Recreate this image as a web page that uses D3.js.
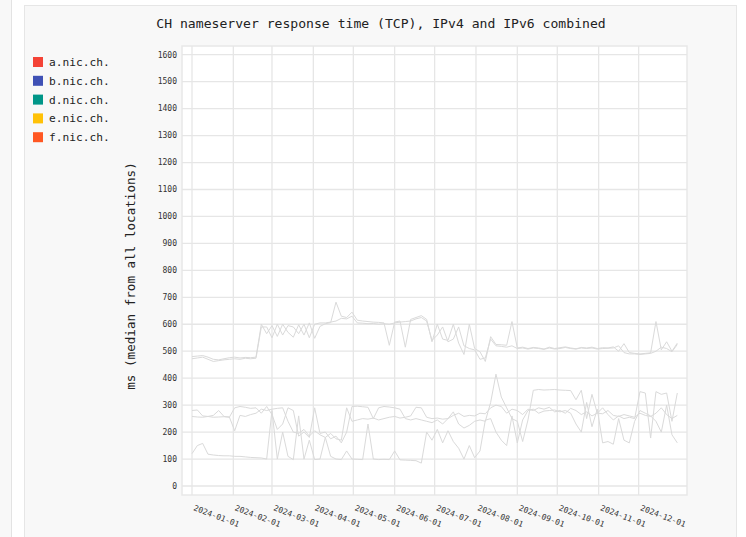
<!DOCTYPE html>
<html>
<head>
<meta charset="utf-8">
<script src="https://cdn.jsdelivr.net/npm/d3@7"></script>
<style>
  body { margin: 0; background: #fff; }
  svg { display: block; }
  text { font-family: "DejaVu Sans Mono", monospace; }
</style>
</head>
<body>
<svg id="chart" width="746" height="537"></svg>
<script>
// servers shown in the legend
var servers = ["a.nic.ch.", "b.nic.ch.", "d.nic.ch.", "e.nic.ch.", "f.nic.ch."];
var serverColors = ["#f44336", "#3f51b5", "#009688", "#ffc107", "#ff5722"];

// y axis ticks
var yTicks = [0, 100, 200, 300, 400, 500, 600, 700, 800, 900, 1000, 1100, 1200, 1300, 1400, 1500, 1600];

// medians, one value every 4 days from 2024-01-01
var aNic = [480, 482, 484, 478, 470, 468, 472, 476, 478, 475, 477, 476, 478, 600, 565, 595, 555, 600, 570, 552,
  598, 560, 605, 548, 592, 602, 606, 682, 630, 625, 645, 615, 612, 610, 608, 607, 605, 522, 608, 612,
  515, 618, 625, 632, 618, 535, 600, 545, 540, 600, 530, 488, 600, 510, 498, 462, 554, 525, 524, 522,
  610, 512, 515, 510, 514, 512, 508, 515, 510, 513, 516, 512, 509, 514, 512, 515, 510, 513, 512, 516,
  500, 528, 495, 492, 490, 492, 494, 610, 505, 535, 500, 530];
var bNic = [472, 475, 478, 470, 462, 465, 468, 470, 472, 470, 474, 472, 474, 590, 590, 550, 600, 560, 595, 590,
  565, 600, 550, 600, 605, 605, 608, 612, 622, 620, 630, 605, 604, 602, 603, 600, 602, 600, 605, 608,
  610, 612, 620, 625, 612, 540, 560, 590, 535, 545, 590, 520, 510, 505, 470, 475, 545, 520, 518, 515,
  520, 510, 512, 508, 512, 510, 507, 512, 508, 510, 514, 510, 508, 512, 510, 512, 508, 510, 511, 512,
  520, 495, 490, 490, 488, 490, 492, 500, 515, 510, 498, 525];
var dNic = [280, 282, 260, 258, 262, 280, 258, 256, 205, 262, 258, 265, 270, 285, 280, 285, 288, 290, 240, 200,
  195, 210, 185, 205, 190, 180, 195, 175, 170, 290, 240, 245, 250, 248, 252, 245, 250, 255, 258, 252,
  255, 260, 292, 290, 255, 250, 252, 248, 250, 262, 270, 258, 262, 260, 270, 268, 290, 300, 295, 270,
  285, 280, 265, 285, 280, 290, 285, 292, 275, 280, 270, 288, 280, 265, 275, 260, 270, 268, 280, 262,
  258, 265, 260, 255, 270, 262, 258, 270, 290, 265, 250, 262];
var eNic = [258, 256, 255, 258, 255, 256, 257, 255, 290, 295, 292, 288, 290, 270, 295, 265, 210, 230, 290, 280,
  185, 200, 180, 290, 195, 200, 175, 185, 160, 200, 295, 296, 294, 292, 250, 290, 295, 293, 290, 285,
  250, 245, 250, 245, 240, 235, 245, 230, 250, 275, 230, 215, 225, 240, 245, 240, 310, 415, 330, 290,
  250, 240, 165, 245, 355, 358, 356, 357, 358, 356, 355, 354, 320, 355, 250, 340, 270, 290, 265, 245,
  260, 250, 255, 250, 350, 345, 178, 350, 340, 345, 240, 345];
var fNic = [120, 150, 158, 118, 115, 113, 112, 112, 110, 110, 108, 106, 105, 104, 100, 280, 100, 200, 110, 98,
  260, 100, 170, 98, 100, 180, 110, 100, 98, 130, 100, 99, 98, 230, 100, 98, 99, 98, 130, 97,
  96, 95, 94, 85, 200, 170, 210, 160, 205, 165, 140, 100, 150, 105, 130, 244, 250, 200, 170, 150,
  260, 160, 245, 280, 285, 270, 278, 280, 282, 275, 280, 270, 230, 200, 310, 220, 285, 160, 165, 155,
  250, 170, 160, 240, 280, 270, 260, 240, 200, 300, 190, 160];

var seriesValues = [aNic, bNic, dNic, eNic, fNic];

var start = new Date(2024, 0, 1);
var dates = d3.timeDay.range(start, new Date(2024, 11, 31), 4);

var svg = d3.select("#chart");

// left side panel edge and the card
svg.append("rect").attr("x", -1).attr("y", -1).attr("width", 12.5).attr("height", 540)
  .attr("fill", "#f8f8f8").attr("stroke", "#e3e3e3");
svg.append("rect").attr("x", 24.5).attr("y", 5.5).attr("width", 712).attr("height", 540)
  .attr("fill", "#f8f8f8").attr("stroke", "#e6e6e6");

// title
svg.append("text")
  .attr("x", 381).attr("y", 28)
  .attr("text-anchor", "middle")
  .style("font-size", "13.1px")
  .attr("fill", "#222")
  .text("CH nameserver response time (TCP), IPv4 and IPv6 combined");

// legend
var legend = svg.append("g");
servers.forEach(function(s, i) {
  var row = legend.append("g").attr("transform", "translate(33," + (57 + i * 18.8) + ")");
  row.append("rect").attr("width", 10).attr("height", 10).attr("fill", serverColors[i]);
  row.append("text").attr("x", 16).attr("y", 9)
    .style("font-size", "11.2px").attr("fill", "#222").text(s);
});

// plot frame
var frame = {left: 182, top: 46, right: 687, bottom: 495};
svg.append("rect")
  .attr("x", frame.left).attr("y", frame.top)
  .attr("width", frame.right - frame.left).attr("height", frame.bottom - frame.top)
  .attr("fill", "#fff").attr("stroke", "#e8e8e8").attr("stroke-width", 1.5);

var x = d3.scaleTime()
  .domain([start, dates[dates.length - 1]])
  .range([192, 677.3]);

var y = d3.scaleLinear()
  .domain([0, 1600])
  .range([486, 54.7]);

var monthTicks = d3.timeMonth.range(start, new Date(2024, 11, 2));

// grid
svg.append("g").selectAll("line")
  .data(yTicks).enter().append("line")
  .attr("x1", frame.left).attr("x2", frame.right)
  .attr("y1", function(d) { return y(d); }).attr("y2", function(d) { return y(d); })
  .attr("stroke", "#e6e6e6").attr("stroke-width", 1.3);

svg.append("g").selectAll("line")
  .data(monthTicks).enter().append("line")
  .attr("x1", function(d) { return x(d); }).attr("x2", function(d) { return x(d); })
  .attr("y1", frame.top).attr("y2", frame.bottom)
  .attr("stroke", "#e6e6e6").attr("stroke-width", 1.3);

// y tick labels
svg.append("g").selectAll("text")
  .data(yTicks).enter().append("text")
  .attr("x", 177).attr("y", function(d) { return y(d); })
  .attr("dy", "0.35em")
  .attr("text-anchor", "end")
  .style("font-size", "8px")
  .attr("fill", "#333")
  .text(function(d) { return d; });

// x tick labels, tilted
var fmt = d3.timeFormat("%Y-%m-%d");
svg.append("g").selectAll("text")
  .data(monthTicks).enter().append("text")
  .attr("transform", function(d) { return "translate(" + (x(d) + 1) + ",510) rotate(21)"; })
  .style("font-size", "8px")
  .attr("fill", "#333")
  .text(function(d) { return fmt(d); });

// y axis title
svg.append("text")
  .attr("transform", "translate(135,276) rotate(-90)")
  .attr("text-anchor", "middle")
  .style("font-size", "12.6px")
  .attr("fill", "#222")
  .text("ms (median from all locations)");

// series lines
var line = d3.line()
  .x(function(d, i) { return x(dates[i]); })
  .y(function(d) { return y(d); });

svg.append("g").selectAll("path")
  .data(seriesValues).enter().append("path")
  .attr("d", line)
  .attr("fill", "none")
  .attr("stroke", "#dadada")
  .attr("stroke-width", 1);
</script>
</body>
</html>
